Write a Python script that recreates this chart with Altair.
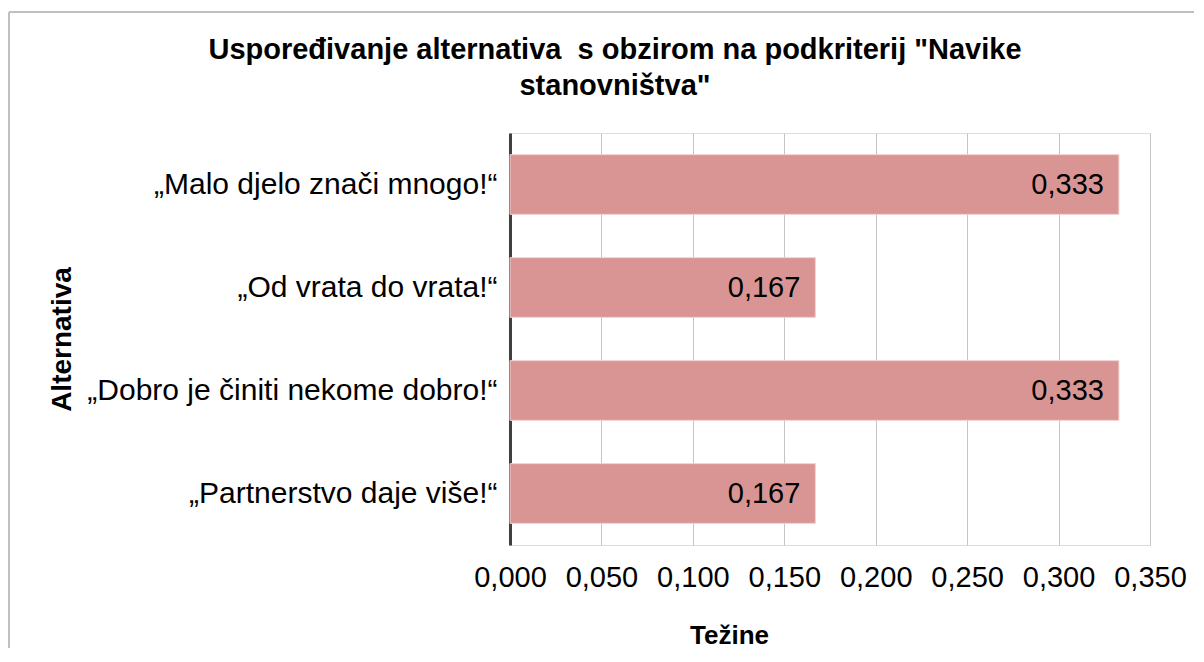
import altair as alt
import pandas as pd

alternatives = [
    "„Malo djelo znači mnogo!“",
    "„Od vrata do vrata!“",
    "„Dobro je činiti nekome dobro!“",
    "„Partnerstvo daje više!“",
]
weights = [0.333, 0.167, 0.333, 0.167]
x_ticks = [0.0, 0.05, 0.1, 0.15, 0.2, 0.25, 0.3, 0.35]

df = pd.DataFrame({"alt": alternatives, "w": weights})

FONT = "Liberation Sans"

base = alt.Chart(df).transform_calculate(
    lbl="replace(format(datum.w, '.3f'), '.', ',')"
)

bars = base.mark_bar(color="#d99594", stroke="#f2d0cf", strokeWidth=1).encode(
    y=alt.Y(
        "alt:N",
        sort=alternatives,
        title="Alternativa",
        scale=alt.Scale(paddingInner=0.42, paddingOuter=0.21),
        axis=alt.Axis(
            labelFont=FONT, labelFontSize=30, labelColor="#000000", labelPadding=13,
            labelLimit=600, ticks=False, domainColor="#404040", domainWidth=3,
            titleFont=FONT, titleFontSize=28, titleFontWeight="bold", titleColor="#000000",
            titleX=-448, titleY=206, titleAngle=270, titleAlign="center",
            titleBaseline="middle", grid=False,
        ),
    ),
    x=alt.X(
        "w:Q",
        title="Težine",
        scale=alt.Scale(domain=[0, 0.35], nice=False),
        axis=alt.Axis(
            values=x_ticks,
            labelExpr="replace(format(datum.value, '.3f'), '.', ',')",
            labelFont=FONT, labelFontSize=29, labelColor="#000000", labelPadding=18,
            labelFlush=False, labelOverlap=False,
            ticks=False, domain=False, grid=True, gridColor="#c4c4c4", gridWidth=1,
            titleFont=FONT, titleFontSize=26, titleFontWeight="bold", titleColor="#000000",
            titleX=219, titleY=90, titleAlign="center", titleBaseline="middle",
        ),
    ),
)

labels = base.mark_text(
    align="right", baseline="middle", dx=-15, font=FONT, fontSize=29, color="#000000"
).encode(
    y=alt.Y("alt:N", sort=alternatives),
    x=alt.X("w:Q"),
    text="lbl:N",
)

frame_df = pd.DataFrame({"k": [0]})
frame_top = alt.Chart(frame_df).mark_rule(color="#c0c0c0", strokeWidth=2).encode(
    x=alt.value(-501), x2=alt.value(700), y=alt.value(-121)
)
frame_left = alt.Chart(frame_df).mark_rule(color="#c0c0c0", strokeWidth=2).encode(
    x=alt.value(-501), y=alt.value(-121), y2=alt.value(520)
)

chart = (
    alt.layer(frame_top, frame_left, bars, labels)
    .properties(
        width=640,
        height=412,
        title=alt.TitleParams(
            text=[
                "Uspoređivanje alternativa\u00a0 s obzirom na podkriterij \"Navike",
                "stanovništva\"",
            ],
            font=FONT, fontSize=29, fontWeight="bold", color="#000000",
            anchor="middle", frame="group", dx=-215, dy=124, offset=34, lineHeight=36,
        ),
        autosize=alt.AutoSizeParams(type="none"),
        padding={"left": 502, "top": 125, "right": 44, "bottom": 103},
    )
    .configure_view(stroke=None)
    .configure(background="white")
)

chart.save("out.html", embed_options={"renderer": "svg", "actions": False})
